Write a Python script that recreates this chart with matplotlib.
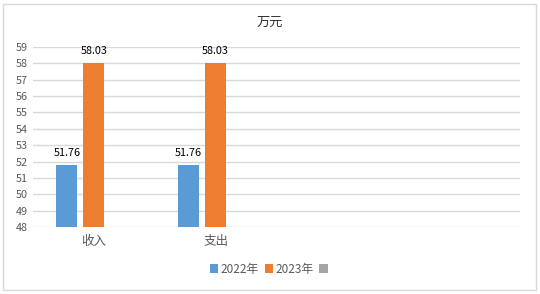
import matplotlib
matplotlib.use("Agg")
import matplotlib.pyplot as plt
import numpy as np
from matplotlib.patches import Rectangle

plt.rcParams['font.family'] = ['Noto Sans CJK SC', 'DejaVu Sans']

categories = ["收入", "支出", "", ""]
series_names = ["2022年", "2023年", ""]
values_2022 = [51.76, 51.76, np.nan, np.nan]
values_2023 = [58.03, 58.03, np.nan, np.nan]
values_3 = [np.nan, np.nan, np.nan, np.nan]
colors = ["#5B9BD5", "#ED7D31", "#A5A5A5"]
y_min, y_max = 48, 59
title = "万元"

fig = plt.figure(figsize=(5.4, 2.94), dpi=100)
fig.patches.append(Rectangle((0.006, 0.012), 0.986, 0.976, transform=fig.transFigure,
                             fill=False, edgecolor="#D9D9D9", linewidth=1))
ax = fig.add_axes([33/540, 1-227/294, (520-33)/540, (227-47)/294])

x = np.arange(len(categories))
step = 0.221
width = 0.172
all_vals = [values_2022, values_2023, values_3]
handles = []
for i, (vals, name, c) in enumerate(zip(all_vals, series_names, colors)):
    v = np.array(vals, dtype=float)
    bars = ax.bar(x + (i - 1) * step, v - y_min, bottom=y_min, width=width, color=c,
                  label=name, zorder=3)
    handles.append(bars)
    for xi, vi in zip(x, v):
        if not np.isnan(vi):
            ax.text(xi + (i - 1) * step, vi + 0.45, f"{vi:.2f}", ha="center", va="bottom",
                    fontsize=7.8, color="black", zorder=4)

ax.set_xlim(-0.5, len(categories) - 0.5)
ax.set_ylim(y_min, y_max)
ax.set_yticks(range(y_min, y_max + 1))
ax.yaxis.grid(True, color="#D9D9D9", linewidth=1, zorder=0)
ax.set_xticks(x)
ax.set_xticklabels(categories)
for s in ax.spines.values():
    s.set_visible(False)
ax.tick_params(axis="both", length=0, labelsize=7.8, colors="#595959")
ax.tick_params(axis="x", pad=6, labelsize=9)
ax.tick_params(axis="y", pad=4)

fig.text(0.5, 1 - 22/294, title, ha="center", va="center", fontsize=9.5, color="#333333")

leg = fig.legend(handles=handles, labels=series_names, loc="center", bbox_to_anchor=(0.5, 1 - 269/294),
                 ncol=3, frameon=False, fontsize=8.5, handlelength=0.7, handleheight=0.7,
                 handletextpad=0.2, columnspacing=0.5)
for t in leg.get_texts():
    t.set_color("#595959")

fig.savefig("out.png", dpi=100)
